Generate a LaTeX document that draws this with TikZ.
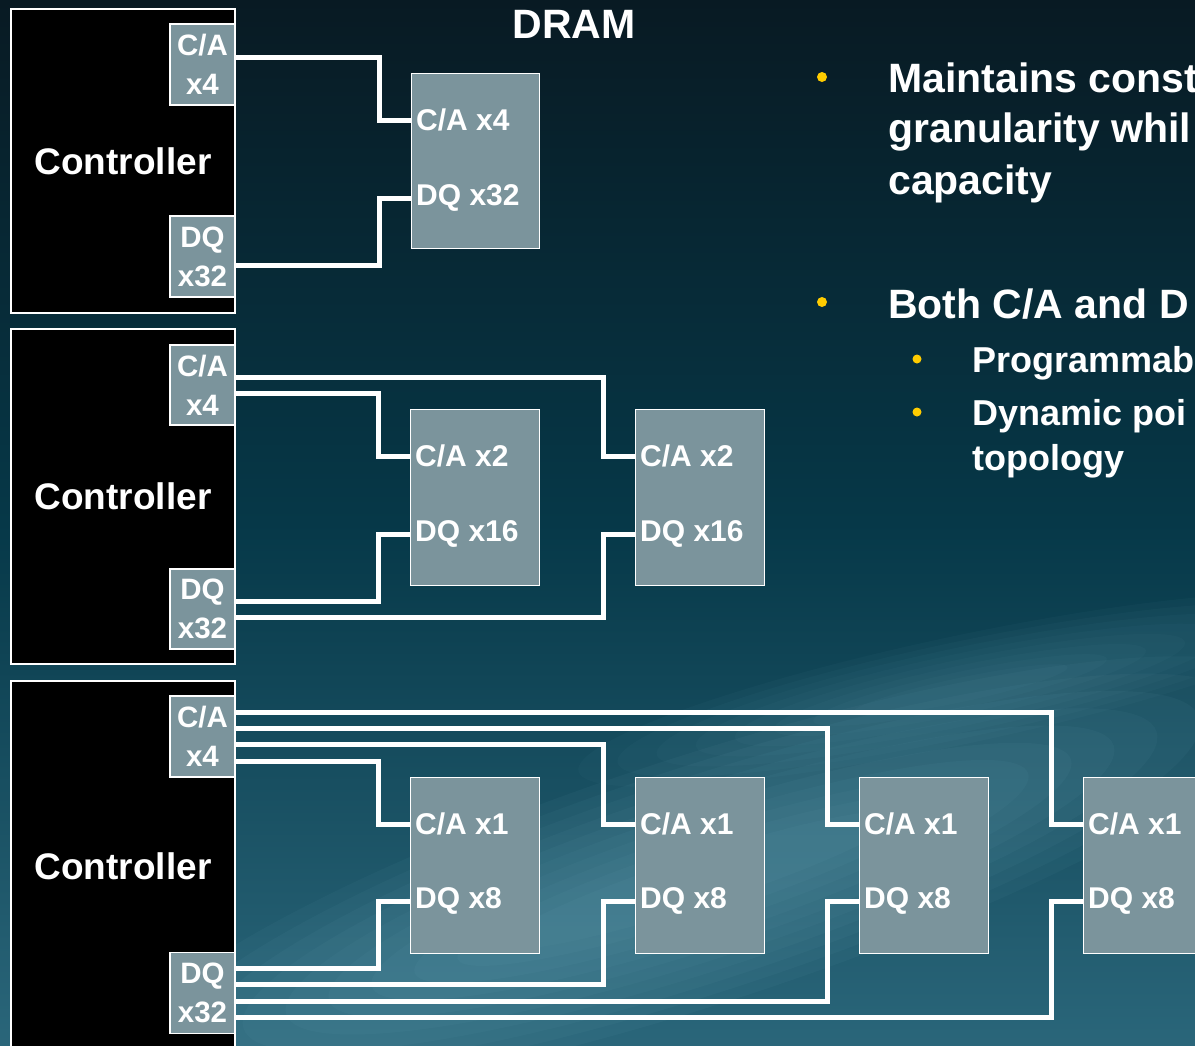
\documentclass[tikz,border=0pt]{standalone}
\usepackage{fontspec}
\setmainfont{Liberation Sans}
\usetikzlibrary{calc}
\definecolor{bgtop}{RGB}{8,26,35}
\definecolor{bgmid}{RGB}{6,56,72}
\definecolor{bgbot}{RGB}{42,102,122}
\definecolor{chip}{RGB}{123,148,156}
\definecolor{bulletc}{RGB}{255,204,0}
\definecolor{streak}{RGB}{120,178,196}
\begin{document}
\begin{tikzpicture}[x=1pt,y=-1pt,
  ctrl/.style={draw=white, line width=1.5pt, fill=black, minimum width=224pt, text=white,
    font=\fontsize{37}{40}\selectfont\bfseries, inner sep=0pt},
  port/.style={draw=white, line width=1.2pt, fill=chip, minimum width=65pt, minimum height=81pt,
    text=white, font=\fontsize{29.5}{39}\selectfont\bfseries, align=center, inner sep=0pt},
  chipbox/.style={draw=white, line width=1.2pt, fill=chip, minimum width=129pt,
    minimum height=176pt, inner sep=0pt, anchor=north west},
  lbl/.style={text=white, font=\fontsize{30}{36}\selectfont\bfseries, inner sep=0pt, anchor=west},
  wire/.style={draw=white, line width=5pt, line join=miter},
  bigdot/.style={circle, fill=bulletc, minimum size=10pt, inner sep=0pt},
  smalldot/.style={circle, fill=bulletc, minimum size=9pt, inner sep=0pt},
  maintext/.style={text=white, font=\fontsize{41}{51}\selectfont\bfseries, inner sep=0pt, anchor=base west},
  subtext/.style={text=white, font=\fontsize{36}{45}\selectfont\bfseries, inner sep=0pt, anchor=base west}
]
\useasboundingbox (0,0) rectangle (1195,1045);
\clip (0,0) rectangle (1195,1045);
\shade[top color=bgtop, bottom color=bgbot, middle color=bgmid] (0,0) rectangle (1195,1045);
% soft light streak
\begin{scope}[rotate around={18:(700,880)}]
  \foreach \k in {1,...,10}{
    \fill[streak, fill opacity=0.055] (700,880) ellipse [x radius={660-45*\k}, y radius={135-11*\k}];
  }
\end{scope}
\begin{scope}[rotate around={12:(960,690)}]
  \foreach \k in {1,...,8}{
    \fill[streak, fill opacity=0.04] (960,690) ellipse [x radius={430-40*\k}, y radius={60-6*\k}];
  }
\end{scope}

% title
\node[text=white, font=\fontsize{41}{44}\selectfont\bfseries, inner sep=0pt] (dram) at (574,24) {DRAM};

% ---------- panel 1
\node[ctrl, minimum height=304pt] (c1) at (123,161) {Controller};
\node[port] (ca1) at (202.5,64.5) {C/A\\x4};
\node[port] (dq1) at (202.5,256.5) {DQ\\x32};
\node[chipbox, minimum height=175pt, minimum width=128pt] (d11) at (411,73) {};
\node[lbl] (l11a) at ($(d11.north west)+(5,47)$) {C/A x4};
\node[lbl] (l11b) at ($(d11.north west)+(5,125)$) {DQ x32};
\draw[wire] ([yshift=7.5pt]ca1.east) -| ($(d11.west |- l11a)+(-32,0)$) -- (d11.west |- l11a);
\draw[wire] ([yshift=-8.5pt]dq1.east) -| ($(d11.west |- l11b)+(-32,0)$) -- (d11.west |- l11b);

% ---------- panel 2
\node[ctrl, minimum height=335pt] (c2) at (123,496.5) {Controller};
\node[port, minimum height=80pt] (ca2) at (202.5,385) {C/A\\x4};
\node[port, minimum height=80pt] (dq2) at (202.5,609) {DQ\\x32};
\node[chipbox] (d21) at (410,409) {};
\node[chipbox] (d22) at (635,409) {};
\foreach \b in {21,22}{
  \node[lbl] (l\b a) at ($(d\b.north west)+(5,47)$) {C/A x2};
  \node[lbl] (l\b b) at ($(d\b.north west)+(5,125)$) {DQ x16};
}
\draw[wire] ([yshift=8pt]ca2.east) -| ($(d22.west |- l22a)+(-32,0)$) -- (d22.west |- l22a);
\draw[wire] ([yshift=-8pt]ca2.east) -| ($(d21.west |- l21a)+(-32,0)$) -- (d21.west |- l21a);
\draw[wire] ([yshift=8pt]dq2.east) -| ($(d21.west |- l21b)+(-32,0)$) -- (d21.west |- l21b);
\draw[wire] ([yshift=-8pt]dq2.east) -| ($(d22.west |- l22b)+(-32,0)$) -- (d22.west |- l22b);

% ---------- panel 3
\node[ctrl, minimum height=370pt] (c3) at (123,866) {Controller};
\node[port] (ca3) at (202.5,736.5) {C/A\\x4};
\node[port] (dq3) at (202.5,993) {DQ\\x32};
\node[chipbox] (d31) at (410,777) {};
\node[chipbox] (d32) at (635,777) {};
\node[chipbox] (d33) at (859,777) {};
\node[chipbox] (d34) at (1083,777) {};
\foreach \b in {31,32,33,34}{
  \node[lbl] (l\b a) at ($(d\b.north west)+(5,47)$) {C/A x1};
  \node[lbl] (l\b b) at ($(d\b.north west)+(5,124)$) {DQ x8};
}
\draw[wire] ([yshift=24.5pt]ca3.east) -| ($(d34.west |- l34a)+(-32,0)$) -- (d34.west |- l34a);
\draw[wire] ([yshift=8.2pt]ca3.east) -| ($(d33.west |- l33a)+(-32,0)$) -- (d33.west |- l33a);
\draw[wire] ([yshift=-8.2pt]ca3.east) -| ($(d32.west |- l32a)+(-32,0)$) -- (d32.west |- l32a);
\draw[wire] ([yshift=-24.5pt]ca3.east) -| ($(d31.west |- l31a)+(-32,0)$) -- (d31.west |- l31a);
\draw[wire] ([yshift=25pt]dq3.east) -| ($(d31.west |- l31b)+(-32,0)$) -- (d31.west |- l31b);
\draw[wire] ([yshift=8.5pt]dq3.east) -| ($(d32.west |- l32b)+(-32,0)$) -- (d32.west |- l32b);
\draw[wire] ([yshift=-8pt]dq3.east) -| ($(d33.west |- l33b)+(-32,0)$) -- (d33.west |- l33b);
\draw[wire] ([yshift=-24pt]dq3.east) -| ($(d34.west |- l34b)+(-32,0)$) -- (d34.west |- l34b);

% ---------- bullets
\node[bigdot] (b1) at (822,77) {};
\node[maintext] (t1a) at (888,92) {Maintains const};
\node[maintext] (t1b) at (888,142) {granularity whil};
\node[maintext] (t1c) at (888,194) {capacity};
\node[bigdot] (b2) at (822,302) {};
\node[maintext] (t2) at (888,318) {Both C/A and D};
\node[smalldot] (sb1) at (917,359) {};
\node[subtext] (s1) at (972,372) {Programmab};
\node[smalldot] (sb2) at (917,412) {};
\node[subtext] (s2) at (972,425) {Dynamic poi};
\node[subtext] (s3) at (972,470) {topology};
\end{tikzpicture}
\end{document}
